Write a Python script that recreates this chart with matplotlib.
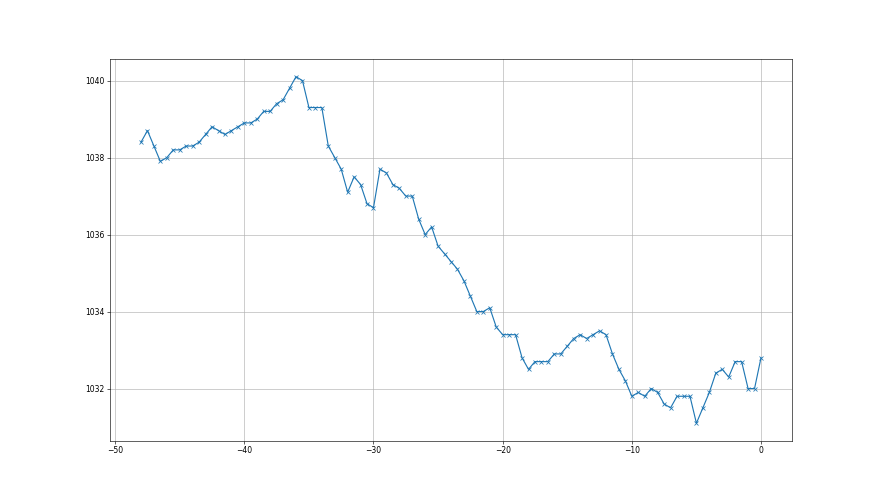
import matplotlib
matplotlib.use("Agg")
import matplotlib.pyplot as plt
import numpy as np

hours = np.arange(-48, 0.01, 0.5)
pressure = [
    1038.4, 1038.7, 1038.3, 1037.9, 1038.0, 1038.2, 1038.2, 1038.3, 1038.3, 1038.4,
    1038.6, 1038.8, 1038.7, 1038.6, 1038.7, 1038.8, 1038.9, 1038.9, 1039.0, 1039.2,
    1039.2, 1039.4, 1039.5, 1039.8, 1040.1, 1040.0, 1039.3, 1039.3, 1039.3, 1038.3,
    1038.0, 1037.7, 1037.1, 1037.5, 1037.3, 1036.8, 1036.7, 1037.7, 1037.6, 1037.3,
    1037.2, 1037.0, 1037.0, 1036.4, 1036.0, 1036.2, 1035.7, 1035.5, 1035.3, 1035.1,
    1034.8, 1034.4, 1034.0, 1034.0, 1034.1, 1033.6, 1033.4, 1033.4, 1033.4, 1032.8,
    1032.5, 1032.7, 1032.7, 1032.7, 1032.9, 1032.9, 1033.1, 1033.3, 1033.4, 1033.3,
    1033.4, 1033.5, 1033.4, 1032.9, 1032.5, 1032.2, 1031.8, 1031.9, 1031.8, 1032.0,
    1031.9, 1031.6, 1031.5, 1031.8, 1031.8, 1031.8, 1031.1, 1031.5, 1031.9, 1032.4,
    1032.5, 1032.3, 1032.7, 1032.7, 1032.0, 1032.0, 1032.8,
]

fig, ax = plt.subplots(figsize=(16, 9), dpi=55)
ax.plot(hours, pressure, marker='x', color='C0')
ax.grid(True)
fig.savefig("out.png", dpi=55)
